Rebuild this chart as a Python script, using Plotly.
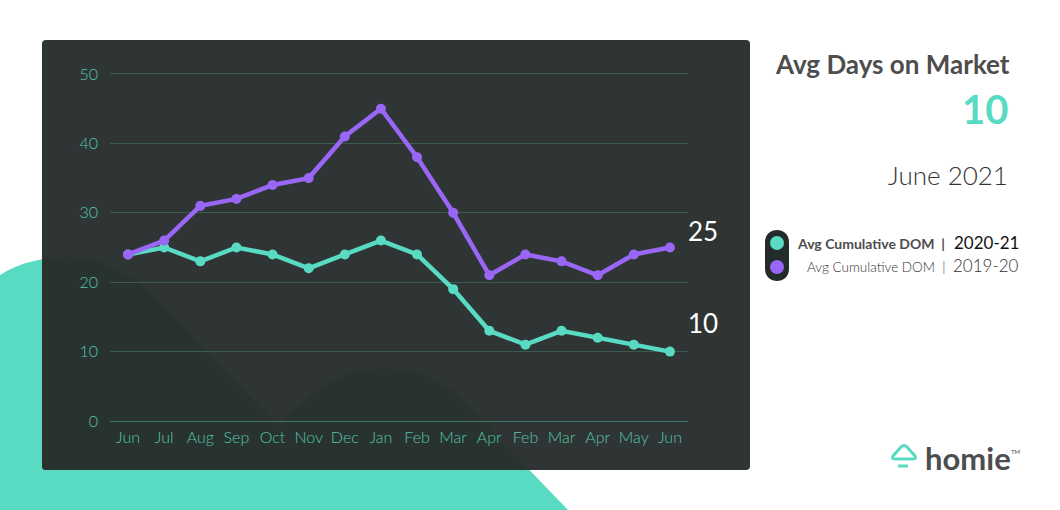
import plotly.graph_objects as go

W, H = 1060, 510

months = ["Jun", "Jul", "Aug", "Sep", "Oct", "Nov", "Dec", "Jan", "Feb", "Mar",
          "Apr", "Feb", "Mar", "Apr", "May", "Jun"]
dom_2020_21 = [24, 25, 23, 25, 24, 22, 24, 26, 24, 19, 13, 11, 13, 12, 11, 10]
dom_2019_20 = [24, 26, 31, 32, 34, 35, 41, 45, 38, 30, 21, 24, 23, 21, 24, 25]
positions = list(range(len(months)))
y_ticks = [0, 10, 20, 30, 40, 50]

TEAL = "#58dbc2"
PURPLE = "#9966f5"
GREY = "#4d4d4d"
TICK_COLOR = "#55c4ac"
LABEL_FONT = "Lato"
TICK_FONT = "Lato Light, Lato"


# shapes are laid out in page pixels, the figure wants paper fractions
def px(x, y):
    return f"{x / W:.5f},{1 - y / H:.5f}"


def path(*parts):
    out = []
    for p in parts:
        if isinstance(p, str):
            out.append(p)
        else:
            out.append(px(*p))
    return " ".join(out)


def text(x, y, s, size, color=GREY, anchor="right", bold=False, family=LABEL_FONT):
    return dict(xref="paper", yref="paper", x=x / W, y=1 - y / H, text=f"<b>{s}</b>" if bold else s,
                showarrow=False, xanchor=anchor, yanchor="middle", xshift=0,
                font=dict(size=size, color=color, family=family))


# outline of the hills, shared by the teal shape and its darker part behind the panel
hills = ("C", (95, 257), (118, 268), (138, 283), "C", (165, 305), (190, 335), (207, 353),
         "L", (279, 427), "C", (290, 412), (300, 405), (306, 400), "C", (320, 387), (344, 369), (383, 369),
         "C", (420, 369), (440, 380), (459, 397))
blob = path("M", (0, 275), "C", (20, 262), (45, 257), (69, 257), *hills,
            "L", (569, 511), "L", (0, 511), "Z")
blob_in_panel = path("M", (42, 259), "C", (50, 257.5), (60, 257), (69, 257), *hills,
                     "L", (529, 470), "L", (46, 470), "Q", (42, 470), (42, 466), "Z")
panel = path("M", (46, 40), "L", (746, 40), "Q", (750, 40), (750, 44), "L", (750, 466),
             "Q", (750, 470), (746, 470), "L", (46, 470), "Q", (42, 470), (42, 466),
             "L", (42, 44), "Q", (42, 40), (46, 40), "Z")
pill = path("M", (765, 242), "C", (765, 226), (789, 226), (789, 242), "L", (789, 269),
            "C", (789, 285), (765, 285), (765, 269), "Z")
roof = path("M", (893, 456), "L", (901, 447), "Q", (904, 444), (907, 447), "L", (915, 456),
            "Q", (917, 459), (913, 459), "L", (895, 459), "Q", (891, 459), (893, 456), "Z")
roof_bar = path("M", (898, 466), "L", (908, 466))

shapes = [
    dict(type="path", xref="paper", yref="paper", path=blob, fillcolor=TEAL, line_width=0, layer="below"),
    dict(type="path", xref="paper", yref="paper", path=panel, fillcolor="#2f3535",
         line_width=0, layer="below"),
    dict(type="path", xref="paper", yref="paper", path=blob_in_panel, fillcolor="#283330",
         line_width=0, layer="below"),
    dict(type="path", xref="paper", yref="paper", path=pill, fillcolor="#232b2b", line_width=0),
    dict(type="path", xref="paper", yref="paper", path=roof, fillcolor="rgba(0,0,0,0)",
         line=dict(color=TEAL, width=3)),
    dict(type="path", xref="paper", yref="paper", path=roof_bar, line=dict(color=TEAL, width=3)),
    dict(type="circle", xref="paper", yref="paper", x0=770 / W, x1=784 / W, y0=1 - 250 / H, y1=1 - 236 / H,
         fillcolor=TEAL, line_width=0),
    dict(type="circle", xref="paper", yref="paper", x0=770 / W, x1=784 / W, y0=1 - 274 / H, y1=1 - 260 / H,
         fillcolor=PURPLE, line_width=0),
]

annotations = [
    text(1012, 64, "Avg Days on Market", 26, bold=True),
    text(1010, 109, "10", 40, color=TEAL, bold=True),
    text(1010, 175, "June 2021", 26, color="#333333", family=TICK_FONT),
    text(947, 243, "Avg Cumulative DOM&nbsp;&nbsp;|", 14, bold=True),
    text(1021, 242, "2020-21", 17, color="#111111"),
    text(948, 267, "Avg Cumulative DOM&nbsp;&nbsp;|", 13.5, color="#333333", family=TICK_FONT),
    text(1021, 265, "2019-20", 17, color="#333333", family=TICK_FONT),
    text(923, 458, "homie", 31, anchor="left", bold=True),
    text(1009, 451, "TM", 6, anchor="left"),
    # end labels sit above and right of the last points
    dict(x=positions[-1], y=dom_2019_20[-1], xref="x", yref="y", text=str(dom_2019_20[-1]), showarrow=False,
         xshift=33, yshift=16, font=dict(size=26, color="white", family=LABEL_FONT)),
    dict(x=positions[-1], y=dom_2020_21[-1], xref="x", yref="y", text=str(dom_2020_21[-1]), showarrow=False,
         xshift=33, yshift=29, font=dict(size=26, color="white", family=LABEL_FONT)),
]

fig = go.Figure()
fig.add_trace(go.Scatter(x=positions, y=dom_2020_21, mode="lines+markers", name="2020-21",
                         line=dict(color=TEAL, width=4.5), marker=dict(color=TEAL, size=10)))
fig.add_trace(go.Scatter(x=positions, y=dom_2019_20, mode="lines+markers", name="2019-20",
                         line=dict(color=PURPLE, width=4.5), marker=dict(color=PURPLE, size=10)))

fig.update_layout(
    width=W, height=H,
    margin=dict(l=0, r=0, t=0, b=0, pad=0, autoexpand=False),
    paper_bgcolor="white",
    plot_bgcolor="rgba(0,0,0,0)",
    showlegend=False,
    shapes=shapes,
    annotations=annotations,
    font=dict(family=LABEL_FONT),
)
fig.update_xaxes(domain=[110 / W, 688 / W], range=[-0.5, 15.5], tickmode="array", tickvals=positions,
                 ticktext=months, showgrid=False, zeroline=False, showline=False, ticks="", ticklen=0,
                 ticklabelstandoff=5, tickfont=dict(size=16, color=TICK_COLOR, family=TICK_FONT))
# range runs a hair past 50 so the top gridline still gets drawn
fig.update_yaxes(domain=[1 - 421 / H, 1 - 72.6 / H], range=[0, 50.2], tickmode="array", tickvals=y_ticks,
                 showgrid=True, gridcolor="#3b5a50", gridwidth=1, zeroline=True, zerolinecolor="#3f7466",
                 zerolinewidth=1, showline=False, ticks="", ticklabelstandoff=11,
                 tickfont=dict(size=16, color=TICK_COLOR, family=TICK_FONT))

# the default page has an 8px body margin, the figure has to sit flush
fig.write_html("out.html", config=dict(displayModeBar=False), post_script="document.body.style.margin='0';")
